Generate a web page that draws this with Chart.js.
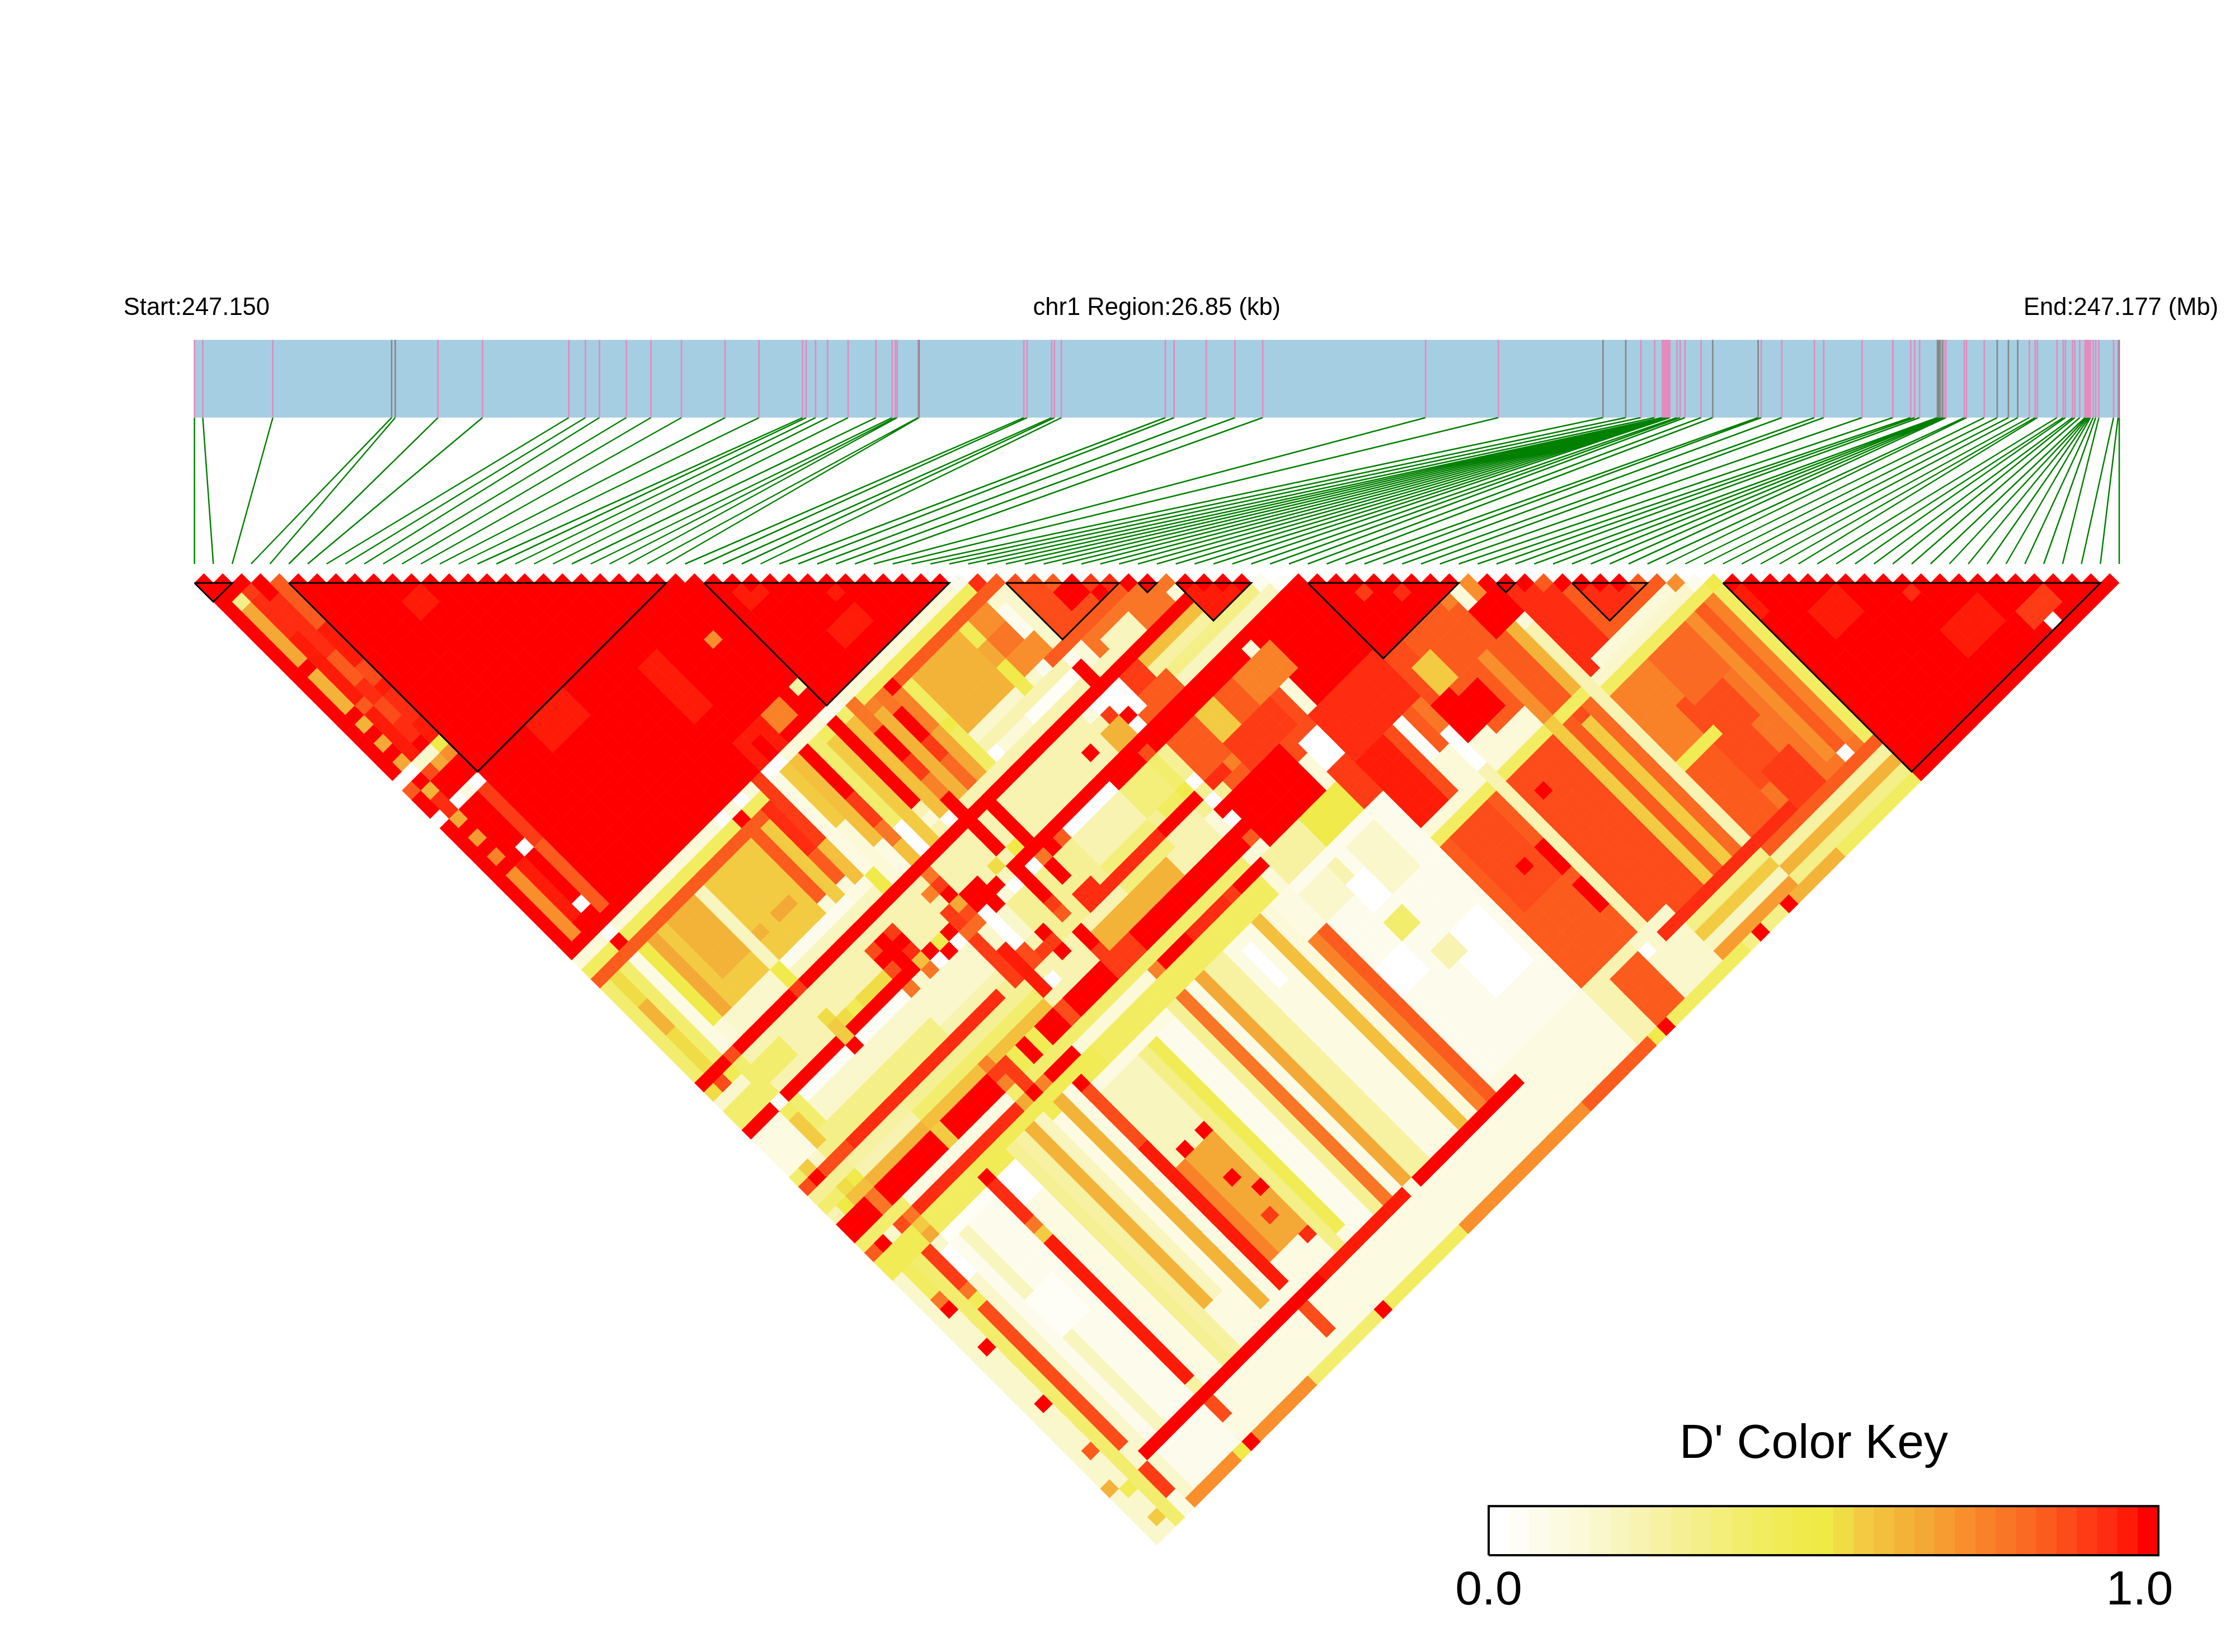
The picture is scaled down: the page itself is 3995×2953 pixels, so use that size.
<!DOCTYPE html>
<html><head><meta charset="utf-8">
<script src="https://cdn.jsdelivr.net/npm/chart.js@4"></script>
<style>html,body{margin:0;padding:0;background:#fff}canvas{position:absolute}</style>
</head><body>
<canvas id="main" width="3995" height="2953" style="left:0;top:0"></canvas>
<canvas id="key" width="1504" height="473" style="left:2490px;top:2480px"></canvas>
<script>
const regionKb=26.85;
const snpKb=[0,.116,1.093,2.750,2.801,3.397,4.018,5.222,5.454,5.649,6.024,6.367,6.794,7.402,7.875,8.483,8.534,8.664,8.832,9.118,9.506,9.732,9.778,9.803,10.094,10.108,11.570,11.615,11.958,11.997,12.094,13.544,13.666,14.113,14.514,14.902,17.174,18.189,19.649,19.966,20.177,20.370,20.476,20.485,20.492,20.501,20.509,20.517,20.526,20.533,20.541,20.549,20.557,20.566,20.574,20.582,20.681,20.725,20.793,21.017,21.179,21.813,21.857,22.143,22.597,22.728,23.262,23.692,23.941,23.997,24.065,24.314,24.335,24.352,24.383,24.405,24.433,24.688,24.719,24.967,25.148,25.304,25.434,25.596,25.677,25.708,25.982,26.069,26.100,26.199,26.230,26.299,26.373,26.392,26.411,26.430,26.448,26.486,26.522,26.566,26.771,26.833,26.850];
const graySnps=[3,4,25,38,39,60,61,71,72,73,74,80,81,82,102];
const blocks=[[0,2],[5,25],[27,40],[43,49],[50,51],[52,56],[59,67],[69,70],[73,77],[81,101]];
const keyColors=["#FFFFFF","#FEFEF6","#FDFCEC","#FCFBE2","#FBF9D8","#FAF7CC","#F9F5BE","#F8F3B0","#F7F1A2","#F6F095","#F5EF88","#F4EE7B","#F3ED6E","#F2EC61","#F1EB55","#F0EA4A","#F0EA46","#F0DC45","#F3CB42","#F3BF3D","#F3B339","#F4A835","#F69C30","#F88F2C","#F98229","#F97626","#FA6A22","#FB5C1E","#FC4C1A","#FD3C15","#FE2C10","#FE1C08","#FF0000"];
const textLabels=["Start:247.150","chr1 Region:26.85 (kb)","End:247.177 (Mb)"];
const keyTitle="D' Color Key";
const keyTickValues=[0,.972];
const keyTickLabels=["0.0","1.0"];
// D' (level of 32) of neighbouring SNP pairs
const adjacentLevels=[32,32,32,32,27,32,32,32,32,32,32,32,32,32,32,32,32,32,32,32,32,32,32,32,32,32,32,32,32,32,32,32,32,32,32,32,32,32,32,32,2,30,27,28,28,27,32,29,30,32,32,25,32,32,32,32,2,1,32,32,32,32,32,32,32,32,32,23,32,32,32,27,32,32,32,32,27,27,23,2,15,32,32,32,32,32,32,32,32,32,32,32,32,32,32,32,32,32,32,32,32,32];
const ldLeft=[[0,101,1,102,4],[0,26,1,40,32],[27,40,28,40,32],
[0,0,22,22,0],[0,0,23,23,27],[0,0,26,26,0],
[1,1,4,4,10],[1,1,5,10,21],[1,1,12,15,20],[1,1,17,17,20],[1,1,19,19,21],[1,1,21,21,21],[1,1,22,22,0],[1,1,24,24,20],[1,1,25,25,30],[1,1,26,26,30],[1,1,27,27,21],[1,1,29,29,22],[1,1,31,31,24],[1,1,33,39,23],
[2,2,4,4,29],[2,2,5,8,30],[2,2,9,21,31],[2,2,16,16,27],[2,2,22,22,5],[2,2,23,23,28],[2,2,26,26,0],[2,2,33,38,31],
[3,3,6,20,30],[3,3,12,14,27],[3,3,17,18,28],[3,3,22,22,5],[3,3,23,23,21],[3,3,26,26,3],[3,3,32,32,0],[3,3,38,38,0],
[4,4,5,9,27],[4,4,10,21,31],[4,4,14,15,28],[4,4,17,19,30],[4,4,22,22,15],[4,4,23,23,23],[4,4,26,26,0],[4,4,27,32,29],[4,4,33,39,27],
[24,24,31,31,23],[26,26,38,38,8],[23,24,38,39,24],[20,22,38,40,31],[21,21,39,40,32],[10,13,26,28,31],[19,20,29,34,31],[10,11,13,14,31],[14,15,9,10,31],[31,33,37,38,31],[28,30,30,31,31],[33,35,33,35,31]];
const ldCols41=[[0,40,41,41,4],[15,15,41,41,0],[17,17,41,41,0],[20,21,41,41,0],[26,27,41,41,2],[3,3,41,41,0],[0,40,42,42,13],[3,3,42,42,32],[0,42,43,43,27]];
const ldMid=[[16,16,42,50,27],[16,16,42,42,32],[17,17,44,54,18],[18,18,43,47,30],[18,18,48,50,27],[19,19,41,47,29],[19,19,48,53,19],[26,26,42,57,32],[33,40,50,50,5],[39,40,46,47,25],[40,42,50,53,2],
[0,40,55,68,7],[0,0,55,68,4],[1,1,55,68,9],[2,2,55,68,5],[3,3,55,63,12],[3,3,66,68,24],[4,6,56,57,12],[24,25,58,60,32],[26,38,60,65,9],[39,41,60,65,13],[0,25,60,63,5],
[0,22,65,66,9],[0,22,67,67,12],[0,22,68,68,19],[28,36,67,68,20],[33,37,64,66,11],
[0,51,54,54,32],[32,52,59,59,32],[30,30,61,62,32],
[0,2,69,70,32],[4,9,69,70,32],[11,15,69,70,32],[16,17,69,70,24],[18,20,69,70,13],[23,23,69,70,28],[24,27,69,70,32],[28,30,69,70,29],
[0,40,71,71,12],[5,21,72,72,32],[38,42,72,72,32],[0,22,73,74,14],[23,40,73,74,13]];
const ldTop=[[41,42,44,50,5],[41,41,45,48,2],[43,49,44,49,28],[45,47,46,48,32],[47,49,48,49,32],[41,50,50,50,27],[44,50,51,53,25],[45,47,52,53,6],[41,46,53,53,6],[52,56,53,56,31],[47,56,57,57,10],[47,57,58,58,6],[46,51,55,55,19],[46,51,56,56,8],[41,43,55,56,0],[43,46,57,58,27],[44,45,55,56,29],
[44,50,61,66,27],[53,58,59,66,32],[41,43,61,66,9],[59,67,60,67,32],[61,61,62,63,29],[63,63,64,65,30],
[43,48,67,71,32],[49,51,64,68,28],[50,51,68,70,0],[52,58,67,71,30],[42,45,72,74,8],[46,49,72,74,15],[50,51,71,74,29],[52,54,72,78,31],[55,55,72,78,28],[56,56,72,75,1],[57,57,72,75,27],[58,58,72,74,25],[59,60,68,72,28],[61,65,68,72,27],[60,61,70,73,18],[59,60,73,76,32],[61,63,73,77,27],[61,62,74,76,32],[65,65,68,68,24],[66,69,70,72,32],[67,67,68,69,23],[68,69,69,70,32],
[64,64,73,79,23],[65,66,73,79,27],[67,67,73,79,20],[69,71,71,79,30],[72,80,73,79,27],[73,77,73,77,30],[70,78,79,79,4]];
const ldLower=[[0,51,75,102,3],[0,0,75,102,5],[1,1,75,102,5],[2,2,75,102,12],[1,1,79,79,32],[1,1,83,83,32],[1,1,89,89,32],[1,1,94,94,27],[0,0,97,97,20],[1,1,98,98,14],[1,1,101,101,18],
[3,3,81,95,28],[3,3,96,97,5],[3,3,98,100,29],[4,4,74,102,5],[5,9,75,102,2],[6,6,75,96,6],[11,14,75,77,0],[6,8,83,86,1],
[10,10,74,74,32],[10,10,81,95,31],[10,10,96,96,8],[10,10,98,99,28],[13,13,74,96,9],[14,14,74,96,8],[15,15,74,92,20],[16,16,74,92,6],[17,17,75,96,3],[18,18,74,95,20],[19,19,74,96,3],[20,20,74,74,32],[20,20,75,80,28],[20,20,81,95,31],[20,20,98,100,28],
[21,24,76,83,6],[21,24,84,93,21],[21,21,84,93,24],[22,22,83,83,32],[24,24,83,83,32],[24,24,89,89,32],[23,23,87,87,32],[24,24,94,94,30],[23,23,91,91,29],[25,25,76,96,10],[26,26,76,95,14],[27,28,76,96,2],[29,29,75,96,9],[30,30,75,96,25],[31,31,75,96,3],[32,32,75,96,21],[33,34,75,96,8],[35,37,75,96,3],[36,36,76,79,0],[38,38,75,96,19],[39,39,75,96,4],[40,40,79,96,24],[41,41,79,96,27],
[42,51,75,95,2],[45,47,78,80,0],[42,44,84,86,0],[47,50,86,91,0],[44,45,76,77,7],[47,49,76,80,5],[45,46,82,83,12],[46,47,86,87,7],[42,44,76,78,5],
[52,67,80,80,13],[68,79,80,80,5],[69,80,81,81,13],[58,58,75,78,0],[58,58,79,97,7],[68,68,74,96,7]];
const ldRight=[[52,57,81,95,27],[53,56,81,88,28],[59,67,81,96,28],[64,64,80,96,18],[65,65,81,96,27],[66,66,82,96,18],[67,67,81,96,26],[57,57,86,88,32],[57,57,90,92,32],[60,60,83,83,32],[55,55,86,86,32],
[69,80,82,100,25],[69,72,82,88,24],[72,75,86,90,28],[72,74,90,94,28],[73,76,82,86,26],[77,77,82,96,23],[78,78,82,96,27],[79,79,82,96,24],[80,80,82,100,13],[69,72,89,89,14],[69,71,90,96,27],[73,75,94,97,29],
[52,56,96,102,7],[57,60,96,102,5],[61,68,98,102,10],[61,68,99,99,18],[61,68,100,100,6],[61,68,101,101,22],[69,80,98,98,27],[69,80,99,99,8],[69,80,100,100,20],[69,80,101,101,10],[78,78,97,97,0],[54,56,97,101,27],[57,57,97,97,0],
[4,22,97,97,32],[23,31,97,97,31],[33,43,97,97,32],[59,72,97,97,30],
[4,16,102,102,23],[9,9,102,102,15],[10,10,102,102,32],[17,23,102,102,12],[24,24,102,102,32],[25,32,102,102,13],[33,45,102,102,23],[46,52,102,102,27],[53,53,102,102,15],[54,54,102,102,32],[55,62,102,102,13],[64,64,102,102,32],[67,67,102,102,32],[68,72,102,102,20],[73,80,102,102,13],
[81,101,82,102,32],[81,81,82,85,31],[84,86,88,90,31],[90,93,96,98,31],[95,97,99,100,29],[90,92,92,92,30],[96,96,101,101,0]];
const ldGold=[[0,0,44,53,12],[1,1,44,53,17],[1,1,47,49,20],[2,2,44,53,12],[3,3,44,53,3],[4,4,44,51,15],[5,5,44,51,21],[6,6,44,51,18],[7,9,44,49,20],[7,9,50,51,18],[10,10,44,51,6],[10,10,52,53,15],[11,15,44,51,18],[11,11,49,49,20],[13,14,49,49,21],[11,17,52,52,2],[18,20,52,52,3],[11,20,53,53,6],[5,9,52,53,5],
[33,37,44,49,20],[39,40,44,45,23],[39,41,48,49,23],[38,38,44,45,14],[38,38,46,47,21],[38,38,48,49,15],[38,38,50,51,14],[25,41,51,51,7],[25,41,52,52,4],[37,41,52,52,1],[32,33,52,52,0],[25,41,53,53,7],
[27,27,42,42,12],[27,27,43,52,19],[27,27,53,53,1],[28,28,42,44,25],[28,28,45,47,32],[28,28,48,49,29],[28,28,50,51,24],[28,28,52,53,32],[29,29,44,52,20],[29,29,43,43,24],[30,30,43,44,25],[30,30,45,47,32],[30,30,48,49,29],[30,30,50,52,26],[31,31,43,43,32],[31,31,44,47,24],[31,31,48,52,21],[32,32,44,52,13],[32,32,48,48,16],
[25,25,43,53,18],[24,24,42,50,12],[24,24,51,53,0],[23,23,42,46,32],[23,23,47,49,29],[23,23,50,51,25],[23,23,52,53,19],[22,22,42,50,19],[22,22,51,53,3],[21,21,42,47,18],[21,21,48,53,4],[20,20,42,51,3],[20,20,52,53,15]];
const ldCentre=[[3,3,54,54,28],[10,10,54,54,29],[0,0,55,55,17],[1,1,55,55,28],[2,2,55,55,14],[0,2,56,56,5],[0,2,57,58,12],[0,2,60,63,3],[3,3,59,59,1],[3,3,60,60,13],[3,3,61,63,18],[3,3,64,64,10],[1,1,64,64,18],[0,0,64,64,12],
[0,0,59,59,32],[1,2,59,59,32],[0,0,65,65,28],[1,1,65,65,32],[2,4,65,65,28],[5,20,65,65,30],[4,9,59,59,32],[10,10,59,59,18],[11,15,59,59,32],[4,9,60,60,1],[10,10,60,60,32],[11,15,60,60,1],[16,16,60,60,25],[16,16,59,59,32],
[10,10,57,57,17],[10,10,58,58,18],[11,15,58,58,17],[12,12,58,58,14],[4,4,60,63,12],[4,15,63,64,10],[4,9,66,66,8],[4,9,67,67,7],[4,9,68,68,20],[11,15,68,68,19],[3,3,67,67,15],[2,2,67,67,17],[1,1,68,68,16],[0,0,68,68,7],
[3,3,69,70,25],[10,10,69,70,18],[16,16,69,69,29],[16,16,68,68,24],[17,17,69,71,29],[19,19,69,70,32],[18,18,69,70,14],[20,20,69,70,14],[21,22,69,70,32],
[5,15,71,71,3],[0,0,72,72,27],[1,1,72,72,32],[2,2,72,72,5],[3,3,72,72,28],[4,4,72,72,25],[5,15,72,72,30],[16,16,72,72,21],[17,17,72,72,32],[18,18,72,72,24],[19,21,72,72,32],[30,30,72,72,24],[31,33,72,72,32],[34,37,72,72,30],[38,38,72,72,29],[39,40,72,72,32],
[4,9,73,74,13],[4,4,73,73,18],[4,4,74,74,21],[3,3,75,78,29],[3,3,79,79,25],[3,3,80,80,14],[1,1,75,78,13],[1,1,78,78,25],[4,4,76,78,0],[5,9,75,75,1],[10,10,75,78,30],[10,10,79,79,25],[10,10,80,80,18],
[16,16,56,56,28],[16,16,57,57,32],[16,16,58,58,28],[17,17,56,59,32],[18,18,56,56,29],[18,18,57,57,32],[18,18,58,58,30],[18,18,59,59,19],[18,18,60,60,25],[19,19,59,59,32],[19,19,60,60,0],[20,20,59,59,15],[20,20,60,60,32],[21,21,59,59,32],[21,21,60,60,0],[22,22,56,56,24],[22,22,58,59,29],[22,22,60,60,26],[23,23,55,55,25],[23,23,56,56,29],[23,23,57,57,32],[23,23,58,58,21],[23,23,59,59,28],[23,23,60,60,26],
[22,22,61,65,29],[23,23,63,67,31],[24,24,60,63,0],[24,24,64,65,28],[24,24,67,67,0],[25,25,59,60,32],[25,25,65,65,29],[26,26,64,64,32],[26,26,65,65,29],[26,26,66,66,32],[24,26,59,59,32],[26,26,60,60,4],
[28,28,55,57,32],[28,28,59,59,32],[28,28,60,62,32],[28,28,63,63,29],[28,28,64,64,27],[28,28,66,67,32],[28,28,68,68,29],[30,30,55,58,32],[31,31,59,60,32],[30,30,59,59,32],[30,30,60,60,25],[32,32,60,60,27],[29,29,58,58,16],[29,29,59,59,32],[29,29,60,60,0],[27,27,58,58,17],[27,27,59,59,6],[27,27,60,60,0],[30,31,64,65,30],
[32,37,59,59,32],[33,37,60,60,0],[33,37,61,63,7],[38,40,61,63,11],[41,41,61,63,12],[41,41,64,64,15],[42,42,64,64,0],[42,42,66,66,0],[42,42,67,67,32],[42,42,68,68,0],[38,41,59,60,32],[41,41,60,60,28],[42,51,59,60,32],[32,37,65,65,30],[38,41,65,65,32],
[31,42,69,69,32],[31,41,70,70,32],[42,42,70,70,27],
[43,45,61,64,27],[46,47,61,63,18],[48,49,61,63,27],[50,53,61,63,24],[43,45,65,65,30],[45,45,65,65,24],[46,50,64,66,29],
[43,43,56,57,0],[42,42,57,57,32],[42,42,58,58,0],[42,42,52,53,32],[41,41,56,56,29],[40,40,55,55,3],[40,41,57,58,20],[38,38,57,57,32]];

const N=snpKb.length;
const ld=[];for(let i=0;i<N;i++)ld.push(new Array(N).fill(0));
[ldLeft,ldCols41,ldMid,ldTop,ldLower,ldRight,ldGold,ldCentre].forEach(list=>list.forEach(([a,b,c,d,v])=>{
  for(let i=a;i<=b;i++)for(let j=c;j<=d;j++)if(j>i&&j<N)ld[i][j]=v;}));
adjacentLevels.forEach((v,i)=>{ld[i][i+1]=v;});

const cells=[],cellColors=[];
for(let i=0;i<N;i++)for(let j=i+1;j<N;j++){cells.push({x:(i+j)/2,y:(j-i-1)/2});cellColors.push(keyColors[ld[i][j]]);}

const BAR_TOP=-12.88,BAR_BOTTOM=-8.76,LINE_BOTTOM=-1.008;
const kbToIdx=k=>k/regionKb*(N-1);
const gap={x:0,y:NaN};
const seg=(arr,a,b)=>{arr.push(a,b,gap);};
const green=[],pink=[],gray=[],black=[];
snpKb.forEach((k,i)=>{const x=kbToIdx(k);
  seg(green,{x,y:BAR_BOTTOM},{x:i,y:LINE_BOTTOM});
  seg(graySnps.includes(i)?gray:pink,{x,y:BAR_TOP},{x,y:BAR_BOTTOM});});
blocks.forEach(([a,b])=>{black.push({x:a,y:0},{x:b,y:0},{x:(a+b)/2,y:(b-a)/2},{x:a,y:0},gap);});

const lineDs=(data,color,w,order)=>({type:'scatter',showLine:true,data,borderColor:color,borderWidth:w,pointRadius:0,order,spanGaps:false,fill:false,tension:0});
const labelPlugin={id:'labels',afterDraw(c){const ctx=c.ctx,X=c.scales.x,Y=c.scales.y;ctx.save();ctx.fillStyle='#000';ctx.font='43.5px "Liberation Sans"';ctx.textBaseline='alphabetic';
  const y=Y.getPixelForValue(-14.2);
  ctx.textAlign='left';ctx.fillText(textLabels[0],X.getPixelForValue(-3.76),y);
  ctx.textAlign='center';ctx.fillText(textLabels[1],X.getPixelForValue(51),y);
  ctx.textAlign='left';ctx.fillText(textLabels[2],X.getPixelForValue(96.93),y);ctx.restore();}};

new Chart(document.getElementById('main'),{type:'scatter',
 data:{datasets:[
  {label:"D'",data:cells,pointStyle:'rectRot',pointRadius:17.2,pointHoverRadius:17.2,pointBorderWidth:0,pointBackgroundColor:cellColors,order:5},
  lineDs(black,'#000',3,0),
  lineDs(pink,'#E48BBD',2.7,2),
  lineDs(gray,'#888888',2.7,1),
  lineDs(green,'#008000',2.5,4),
  {type:'scatter',showLine:true,data:[{x:0,y:BAR_TOP},{x:N-1,y:BAR_TOP}],borderWidth:0,pointRadius:0,fill:{value:BAR_BOTTOM},backgroundColor:'#A6CEE3',order:6}
 ]},
 options:{responsive:false,animation:false,devicePixelRatio:1,layout:{padding:0,autoPadding:false},
  plugins:{legend:{display:false},tooltip:{enabled:false},title:{display:false}},
  events:[],
  scales:{x:{type:'linear',display:false,min:-347.6/33.73,max:(3995-347.6)/33.73},
          y:{type:'linear',display:false,reverse:true,min:-1042/33.73,max:(2953-1042)/33.73}}},
 plugins:[labelPlugin]});

new Chart(document.getElementById('key'),{type:'bar',
 data:{datasets:[
  {type:'line',data:[{x:0,y:0},{x:1,y:0},{x:1,y:1},{x:0,y:1},{x:0,y:0}],borderColor:'#000',borderWidth:4,pointRadius:0,order:0,clip:false,fill:false},
  {data:keyColors.map((c,k)=>({x:(k+.5)/keyColors.length,y:1})),backgroundColor:keyColors,barThickness:37,borderWidth:0,order:1}
 ]},
 options:{responsive:false,animation:false,devicePixelRatio:1,events:[],
  layout:{padding:{left:136,right:136,top:0,bottom:0},autoPadding:false},
  plugins:{legend:{display:false},tooltip:{enabled:false},
   title:{display:true,text:keyTitle,color:'#000',font:{family:'"Liberation Sans"',size:86,weight:'normal'},padding:{top:51,bottom:58}}},
  scales:{x:{type:'linear',offset:false,min:0,max:1,grid:{display:false},border:{display:false},
     afterFit(s){s.height=173;},
     afterBuildTicks(s){s.ticks=keyTickValues.map(value=>({value}));},
     ticks:{maxRotation:0,autoSkip:false,padding:5,color:'#000',font:{family:'"Liberation Sans"',size:86},callback:(v,idx)=>keyTickLabels[idx]}},
   y:{display:true,min:0,max:1,afterFit(s){s.width=35;},grid:{display:false},border:{display:false},ticks:{display:false}}}}});
</script></body></html>
